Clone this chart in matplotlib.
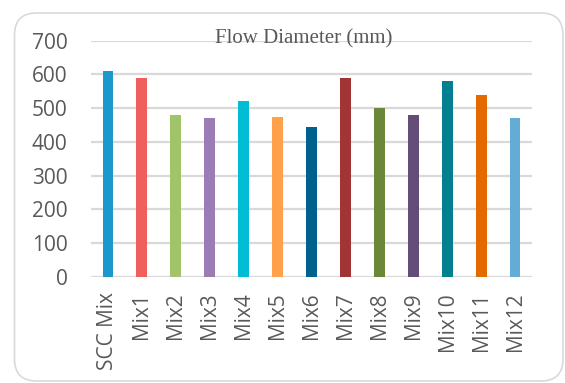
import matplotlib
matplotlib.use("Agg")
import matplotlib.pyplot as plt
import matplotlib.patches as mpatches

categories = ["SCC Mix", "Mix1", "Mix2", "Mix3", "Mix4", "Mix5", "Mix6",
              "Mix7", "Mix8", "Mix9", "Mix10", "Mix11", "Mix12"]
values = [610, 590, 480, 471, 521, 474, 444, 590, 500, 480, 581, 540, 471]
colors = ["#1b98cc", "#ef5f5b", "#a1c46a", "#9b7db6", "#00bcd4", "#ffa04a",
          "#00628c", "#a13535", "#6b8739", "#644e78", "#008090", "#e26a00",
          "#63acd6"]
yticks = [0, 100, 200, 300, 400, 500, 600, 700]

W, H, DPI = 565, 383, 100
fig = plt.figure(figsize=(W / DPI, H / DPI), dpi=DPI, facecolor="white")

# rounded outer border
box = mpatches.FancyBboxPatch((14.5 / DPI, (H - 381) / DPI),
                              (563 - 14.5) / DPI, (381 - 13) / DPI,
                              boxstyle="round,pad=0,rounding_size=0.22",
                              transform=fig.dpi_scale_trans,
                              facecolor="none", edgecolor="#d9d9d9",
                              linewidth=1.2, zorder=-1)
fig.patches.append(box)

ax = fig.add_axes([91 / W, 1 - 277 / H, (532 - 91) / W, (277 - 40.6) / H])
ax.set_facecolor("none")
x = list(range(len(categories)))
ax.bar(x, values, width=0.32, color=colors, zorder=3)
ax.set_xlim(-0.5, len(categories) - 0.5)
ax.set_ylim(0, 700)
ax.set_yticks(yticks)
ax.set_xticks(x)
ax.set_xticklabels(categories, rotation=90)
for s in ax.spines.values():
    s.set_visible(False)
ax.grid(axis="y", color="#d9d9d9", linewidth=1.6, zorder=0)
ax.tick_params(length=0, labelsize=15, labelcolor="#595959")
ax.tick_params(axis="y", pad=17)
ax.tick_params(axis="x", pad=11)
for lab in ax.get_xticklabels() + ax.get_yticklabels():
    lab.set_family("Open Sans")

fig.text(304 / W, 1 - 39 / H, "Flow Diameter (mm)", ha="center", va="center",
         fontsize=15, color="#595959", family="Liberation Serif")

fig.savefig("out.png", dpi=DPI)
